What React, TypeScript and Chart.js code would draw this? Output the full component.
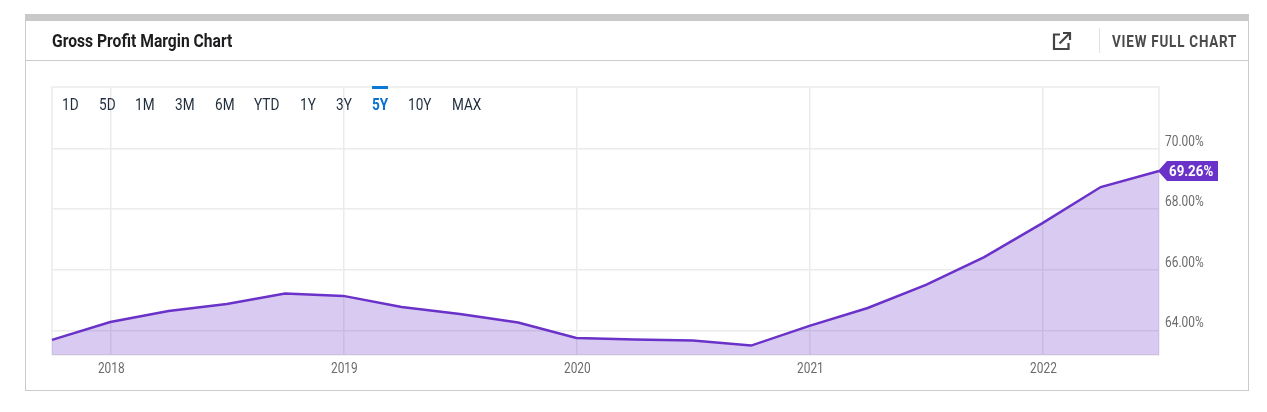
import React, { useEffect, useRef } from "react";
import { Chart, registerables } from "chart.js";

Chart.register(...registerables);

const quarters = [
  "2017-09", "2017-12", "2018-03", "2018-06", "2018-09", "2018-12", "2019-03", "2019-06", "2019-09", "2019-12",
  "2020-03", "2020-06", "2020-09", "2020-12", "2021-03", "2021-06", "2021-09", "2021-12", "2022-03", "2022-06",
];
const grossMargin = [
  63.69, 64.28, 64.64, 64.87, 65.22, 65.14, 64.77, 64.54, 64.26, 63.75,
  63.7, 63.67, 63.5, 64.15, 64.74, 65.5, 66.42, 67.54, 68.73, 69.26,
];
const yearTicks = ["2017-12", "2018-12", "2019-12", "2020-12", "2021-12"];
const yearLabels = ["2018", "2019", "2020", "2021", "2022"];
const yTicks = [64, 66, 68, 70];
const rangeLabels = ["1D", "5D", "1M", "3M", "6M", "YTD", "1Y", "3Y", "5Y", "10Y", "MAX"];
const rangeLefts = [62, 99, 135, 175, 215, 254, 300, 336, 372, 408, 452];
const activeRange = "5Y";
const title = "Gross Profit Margin Chart";
const linkText = "VIEW FULL CHART";

const PURPLE = "#6a32c9";
const GRID = "#ebebeb";
const TICK_COLOR = "#6b6b6b";
const PLOT = { left: 52, right: 1159, top: 87, bottom: 355 };

const framePlugin = {
  id: "frame",
  beforeDatasetsDraw(chart: any) {
    const { ctx, chartArea: a } = chart;
    ctx.save();
    ctx.strokeStyle = GRID;
    ctx.lineWidth = 1.5;
    ctx.strokeRect(a.left, a.top, a.right - a.left, a.bottom - a.top);
    ctx.restore();
  },
};

// Chart.js has no condensed tick font, so the axes' own tick labels are drawn narrowed.
const condensedTicksPlugin = {
  id: "condensedTicks",
  afterDraw(chart: any) {
    const { ctx, chartArea: a, scales } = chart;
    const put = (text: string, px: number, py: number, align: CanvasTextAlign) => {
      ctx.save();
      ctx.translate(px, py);
      ctx.scale(0.85, 1);
      ctx.fillStyle = TICK_COLOR;
      ctx.font = "14px Roboto";
      ctx.textAlign = align;
      ctx.textBaseline = "middle";
      ctx.fillText(text, 0, 0);
      ctx.restore();
    };
    scales.x.ticks.forEach((t: any, i: number) => {
      put(String(t.label), scales.x.getPixelForTick(i) + 1, a.bottom + 14.5, "center");
    });
    scales.y.ticks.forEach((t: any, i: number) => {
      put(String(t.label), a.right + 6, scales.y.getPixelForTick(i) - 6.5, "left");
    });
  },
};

const badgePlugin = {
  id: "badge",
  afterDraw(chart: any) {
    const { ctx } = chart;
    const last = grossMargin[grossMargin.length - 1];
    const y = Math.round(chart.scales.y.getPixelForValue(last));
    const x = chart.chartArea.right;
    ctx.save();
    ctx.fillStyle = PURPLE;
    ctx.beginPath();
    ctx.moveTo(x - 1, y);
    ctx.lineTo(x + 8, y - 10);
    ctx.lineTo(x + 59, y - 10);
    ctx.lineTo(x + 59, y + 10);
    ctx.lineTo(x + 8, y + 10);
    ctx.closePath();
    ctx.fill();
    ctx.fillStyle = "#ffffff";
    ctx.font = "bold 14px Roboto";
    ctx.textBaseline = "middle";
    ctx.textAlign = "left";
    ctx.translate(x + 10, y + 1);
    ctx.scale(0.95, 1);
    ctx.fillText(last.toFixed(2) + "%", 0, 0);
    ctx.restore();
  },
};

const squeezed = (
  left: number,
  centerY: number,
  scale: number,
  style: React.CSSProperties,
): React.CSSProperties => ({
  position: "absolute",
  left,
  top: centerY,
  transform: `translateY(-50%) scaleX(${scale})`,
  transformOrigin: "left center",
  whiteSpace: "nowrap",
  fontFamily: "Roboto",
  lineHeight: 1,
  ...style,
});

export default function App() {
  const ref = useRef<HTMLCanvasElement>(null);

  useEffect(() => {
    const chart = new Chart(ref.current!, {
      type: "line",
      data: {
        labels: quarters,
        datasets: [
          {
            data: grossMargin,
            borderColor: PURPLE,
            borderWidth: 2.5,
            backgroundColor: "rgba(106,50,201,0.26)",
            fill: "start",
            pointRadius: 0,
            tension: 0,
          },
        ],
      },
      options: {
        animation: false,
        responsive: false,
        events: [],
        layout: { padding: { left: PLOT.left, top: PLOT.top, right: 0, bottom: 0 } },
        plugins: { legend: { display: false }, tooltip: { enabled: false } },
        scales: {
          x: {
            type: "category",
            offset: false,
            afterFit(s: any) {
              s.height = 412 - PLOT.bottom;
            },
            afterBuildTicks(s: any) {
              s.ticks = yearTicks.map((t) => ({ value: quarters.indexOf(t) }));
            },
            grid: { color: GRID, lineWidth: 1.5, drawTicks: false },
            border: { display: false },
            ticks: {
              display: false,
              autoSkip: false,
              maxRotation: 0,
              callback: (_v: any, i: number) => yearLabels[i],
            },
          },
          y: {
            position: "right",
            min: 63.19,
            max: 72.03,
            afterFit(s: any) {
              s.width = 1267 - PLOT.right;
            },
            afterBuildTicks(s: any) {
              s.ticks = yTicks.map((value) => ({ value }));
            },
            grid: { color: GRID, lineWidth: 1.5, drawTicks: false },
            border: { display: false },
            ticks: {
              display: false,
              callback: (v: any) => Number(v).toFixed(2) + "%",
            },
          },
        },
      },
      plugins: [framePlugin, condensedTicksPlugin, badgePlugin],
    } as any);
    return () => chart.destroy();
  }, []);

  return (
    <div style={{ position: "absolute", left: 0, top: 0, width: 1267, height: 412, background: "#fff", overflow: "hidden" }}>
      <div style={{ position: "absolute", left: 25, top: 14, width: 1224, height: 7, background: "#c9c9c9" }} />
      <div style={{ position: "absolute", left: 25, top: 21, width: 1222, height: 369, borderLeft: "1px solid #cbcbcb", borderRight: "1px solid #cbcbcb", borderBottom: "1px solid #cbcbcb" }} />
      <div style={{ position: "absolute", left: 26, top: 60, width: 1222, height: 1, background: "#cbcbcb" }} />
      <div style={{ position: "absolute", left: 1099, top: 28, width: 1, height: 25, background: "#e2e2e2" }} />
      <canvas ref={ref} width={1267} height={412} style={{ position: "absolute", left: 0, top: 0, width: 1267, height: 412 }} />
      <span style={squeezed(52, 41, 0.87, { fontSize: 18, fontWeight: 700, color: "#1d1d1f" })}>{title}</span>
      <svg style={{ position: "absolute", left: 1052, top: 31 }} width="20" height="20" viewBox="0 0 20 20" fill="none" stroke="#444" strokeWidth="2.2">
        <path d="M8 3.5H2V18H16.5V12" />
        <path d="M7.5 12.5L18 2" />
        <path d="M11 2H18V9" />
      </svg>
      <span style={squeezed(1112, 41, 0.79, { fontSize: 17, fontWeight: 700, letterSpacing: 1, color: "#4a4a4a" })}>{linkText}</span>
      {rangeLabels.map((label, i) => (
        <span
          key={label}
          style={squeezed(rangeLefts[i], 104.5, 0.85, {
            fontSize: 16,
            fontWeight: label === activeRange ? 700 : 400,
            color: label === activeRange ? "#0a6fd0" : "#1f2d3d",
          })}
        >
          {label}
        </span>
      ))}
      <div style={{ position: "absolute", left: 372, top: 86, width: 16, height: 3, background: "#0a78d7" }} />
    </div>
  );
}
